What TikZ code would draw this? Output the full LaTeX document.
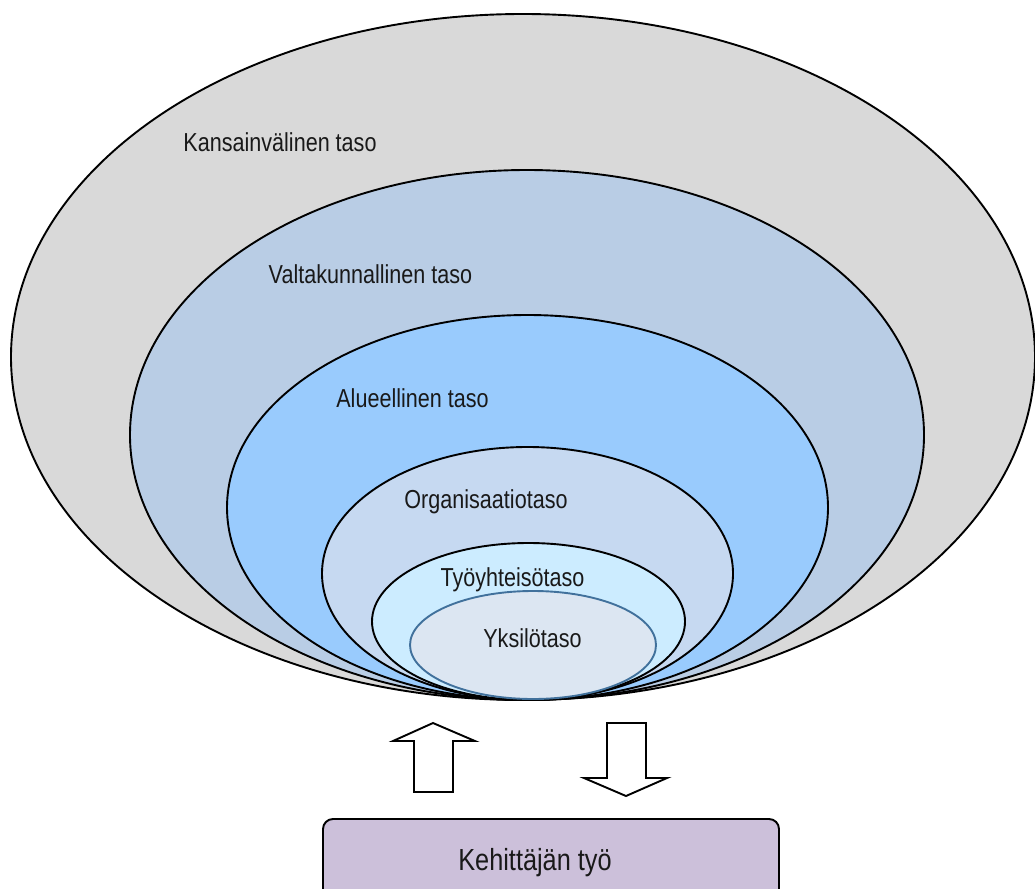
\documentclass[tikz,border=0pt]{standalone}
\usepackage{fontspec}
\setmainfont{Liberation Sans}
\definecolor{cOuter}{HTML}{D9D9D9}
\definecolor{cValt}{HTML}{B9CDE5}
\definecolor{cAlue}{HTML}{99CBFD}
\definecolor{cOrg}{HTML}{C6D9F1}
\definecolor{cTyo}{HTML}{CCECFF}
\definecolor{cYks}{HTML}{DCE6F2}
\definecolor{cYksLine}{HTML}{41719C}
\definecolor{cBox}{HTML}{CCC0DA}
\newcommand\narrowtxt[1]{\scalebox{0.83}[1]{#1}}
\begin{document}
\begin{tikzpicture}[x=1pt,y=-1pt,
  ring/.style={draw=black,line width=1.9pt},
  lbl/.style={font=\fontsize{26}{30}\selectfont,inner sep=0pt,anchor=base,text=black!90},
  blockarrow/.style={draw=black,line width=1.9pt,fill=white,line join=miter}]
\useasboundingbox (0,0) rectangle (1035,888);
\clip (0,0) rectangle (1035,888);
\draw[ring,fill=cOuter] (523,357) ellipse [x radius=512pt,y radius=343pt];
\draw[ring,fill=cValt] (527,435) ellipse [x radius=397pt,y radius=265pt];
\draw[ring,fill=cAlue] (527.5,507.5) ellipse [x radius=300.5pt,y radius=192.5pt];
\draw[ring,fill=cOrg] (527.5,573.5) ellipse [x radius=205.5pt,y radius=126.5pt];
\draw[ring,fill=cTyo] (528.5,621.5) ellipse [x radius=156.5pt,y radius=78.5pt];
\draw[draw=cYksLine,line width=1.9pt,fill=cYks] (533,645) ellipse [x radius=123pt,y radius=54pt];
\node[lbl] (kans) at (280,151) {\narrowtxt{Kansainvälinen taso}};
\node[lbl] (valt) at (370.5,283) {\narrowtxt{Valtakunnallinen taso}};
\node[lbl] (alue) at (412.5,407) {\narrowtxt{Alueellinen taso}};
\node[lbl] (org) at (486,508) {\narrowtxt{Organisaatiotaso}};
\node[lbl] (tyo) at (512.5,586) {\narrowtxt{Työyhteisötaso}};
\node[lbl] (yks) at (532.5,647) {\narrowtxt{Yksilötaso}};
\draw[blockarrow] (433,723) -- (475,741) -- (453,741) -- (453,792) -- (414,792) -- (414,741) -- (393,741) -- cycle;
\draw[blockarrow] (607,723) -- (646,723) -- (646,778) -- (667,778) -- (626,796) -- (584,778) -- (607,778) -- cycle;
\draw[draw=black,line width=1.9pt,fill=cBox,rounded corners=10pt] (323,819) rectangle (779,910);
\node[lbl,font=\fontsize{30.5}{34}\selectfont] (kehit) at (535,870) {\narrowtxt{Kehittäjän työ}};
\end{tikzpicture}
\end{document}
